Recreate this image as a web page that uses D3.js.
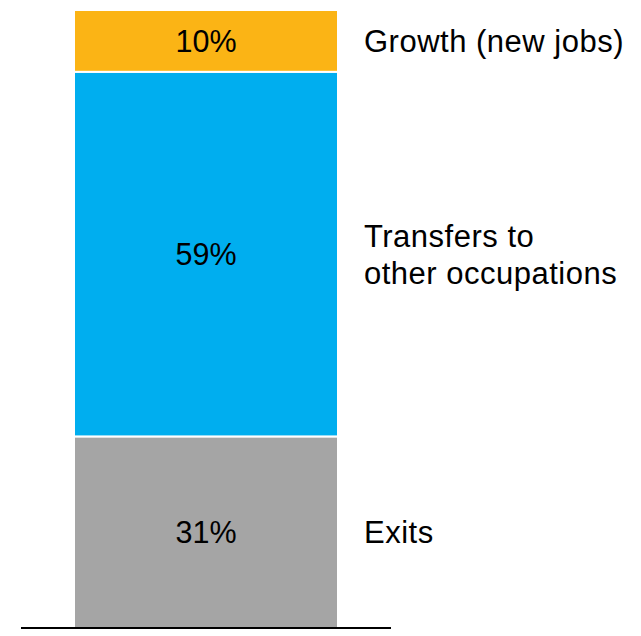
<!DOCTYPE html>
<html>
<head>
<meta charset="utf-8">
<script src="https://cdn.jsdelivr.net/npm/d3@7"></script>
<style>
  html, body { margin: 0; padding: 0; background: #fff; }
  svg text { font-family: "Liberation Sans", Arial, sans-serif; }
</style>
</head>
<body>
<svg id="chart" width="641" height="636"></svg>
<script>
// Share of job openings by source, stacked bottom to top
const categories = ["Exits", "Transfers to\nother occupations", "Growth (new jobs)"];
const shares = [31, 59, 10];
const colors = ["#a5a5a5", "#00aeef", "#fbb415"];

const svg = d3.select("#chart");

const y = d3.scaleLinear().domain([0, 100]).range([628, 10]);
const x = d3.scaleBand().domain(["all"]).range([74, 338]).padding(0);

// cumulative stack
const stacked = [];
let acc = 0;
shares.forEach((v, i) => {
  stacked.push({ cat: categories[i], value: v, y0: acc, y1: acc + v, color: colors[i] });
  acc += v;
});

const seg = svg.append("g").selectAll("g").data(stacked).join("g");

seg.append("rect")
  .attr("x", x("all"))
  .attr("width", x.bandwidth())
  .attr("y", d => y(d.y1))
  .attr("height", d => y(d.y0) - y(d.y1))
  .attr("fill", d => d.color)
  .attr("stroke", "#fff")
  .attr("stroke-width", 2);

// value labels inside each segment
seg.append("text")
  .attr("x", x("all") + x.bandwidth() / 2)
  .attr("y", d => (y(d.y0) + y(d.y1)) / 2)
  .attr("dy", "0.36em")
  .attr("text-anchor", "middle")
  .attr("font-size", 30.5)
  .attr("fill", "#000")
  .text(d => d.value + "%");

// category labels to the right of the bar
const lineH = 36.5;
seg.append("text")
  .attr("font-size", 31)
  .attr("fill", "#000")
  .attr("letter-spacing", 0.5)
  .each(function (d) {
    const lines = d.cat.split("\n");
    const cy = (y(d.y0) + y(d.y1)) / 2;
    const first = cy - (lines.length - 1) * lineH / 2;
    d3.select(this).selectAll("tspan").data(lines).join("tspan")
      .attr("x", 364)
      .attr("y", (l, i) => first + i * lineH)
      .attr("dy", "0.36em")
      .text(l => l);
  });

// baseline
svg.append("line")
  .attr("x1", 21).attr("x2", 391)
  .attr("y1", y(0)).attr("y2", y(0))
  .attr("stroke", "#000")
  .attr("stroke-width", 2);
</script>
</body>
</html>
